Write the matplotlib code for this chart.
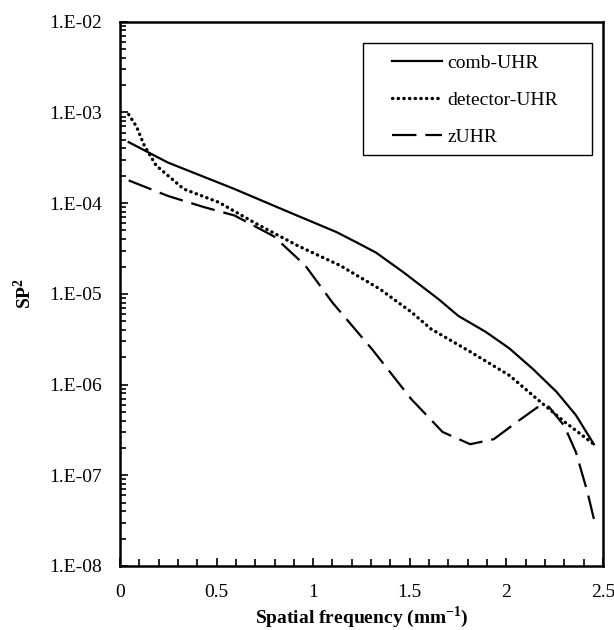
import numpy as np
import matplotlib
matplotlib.use("Agg")
import matplotlib.pyplot as plt
from matplotlib.patches import Rectangle
from matplotlib.ticker import FixedLocator, FuncFormatter, LogLocator, MultipleLocator, NullFormatter

plt.rcParams['font.family'] = ['Liberation Serif', 'DejaVu Serif']

comb_x = [0.045, 0.248, 0.593, 0.837, 1.12, 1.24, 1.325, 1.467, 1.65, 1.752, 1.894, 2.016, 2.138, 2.26, 2.36, 2.453]
comb_y = [4.7e-4, 2.8e-4, 1.43e-4, 8.6e-5, 4.8e-5, 3.55e-5, 2.85e-5, 1.73e-5, 8.7e-6, 5.7e-6, 3.8e-6, 2.5e-6, 1.48e-6, 8.3e-7, 4.6e-7, 2.2e-7]

det_x = [0.045, 0.085, 0.126, 0.187, 0.33, 0.512, 0.695, 0.919, 1.142, 1.345, 1.508, 1.61, 1.813, 2.016, 2.16, 2.3, 2.453]
det_y = [9.5e-4, 7e-4, 4.3e-4, 2.6e-4, 1.43e-4, 1.02e-4, 6.1e-5, 3.4e-5, 2.04e-5, 1.13e-5, 6.3e-6, 4.1e-6, 2.3e-6, 1.26e-6, 6.9e-7, 3.9e-7, 2.2e-7]

z_x = [0.045, 0.248, 0.43, 0.593, 0.797, 0.96, 1.1, 1.305, 1.508, 1.67, 1.813, 1.935, 2.057, 2.16, 2.22, 2.3, 2.36, 2.42, 2.453]
z_y = [1.78e-4, 1.2e-4, 9.1e-5, 7.3e-5, 4.3e-5, 2.04e-5, 8.0e-6, 2.45e-6, 6.9e-7, 3.0e-7, 2.2e-7, 2.5e-7, 3.9e-7, 5.6e-7, 5.7e-7, 3.5e-7, 1.8e-7, 6.5e-8, 3.3e-8]

labels = ['comb-UHR', 'detector-UHR', 'zUHR']
x_ticks = [0, 0.5, 1, 1.5, 2, 2.5]

fig = plt.figure(figsize=(6.14, 6.30), dpi=100)
ax = fig.add_axes([0.1954, 0.1016, 0.7866, 0.864])

ax.plot(comb_x, comb_y, color='black', lw=1.6, ls='-', label=labels[0])
ax.plot(det_x, det_y, color='black', lw=2.4, ls=(0, (0.1, 1.6)), dash_capstyle='round', label=labels[1])
ax.plot(z_x, z_y, color='black', lw=1.6, ls=(0, (11, 4)), label=labels[2])

ax.set_yscale('log')
ax.set_xlim(0, 2.5)
ax.set_ylim(1e-8, 1e-2)

ax.xaxis.set_major_locator(FixedLocator(x_ticks))
ax.xaxis.set_minor_locator(MultipleLocator(0.1))
ax.xaxis.set_major_formatter(FuncFormatter(lambda v, p: f"{v:g}"))
ax.yaxis.set_major_locator(LogLocator(base=10, numticks=20))
ax.yaxis.set_minor_locator(LogLocator(base=10, subs=np.arange(2, 10), numticks=20))
ax.yaxis.set_minor_formatter(NullFormatter())
ax.yaxis.set_major_formatter(FuncFormatter(lambda v, p: "1.E%+03d" % int(round(np.log10(v))) if 1e-8 <= v <= 1e-2 else ""))

ax.tick_params(which='both', direction='in', labelsize=14, width=1.2)
ax.tick_params(which='major', length=6, pad=13)
ax.tick_params(which='minor', length=4)
ax.tick_params(axis='x', which='minor', length=5)
ax.tick_params(right=False, top=False)

for s in ax.spines.values():
    s.set_linewidth(1.8)

ax.set_xlabel('Spatial frequency (mm$^{\\mathregular{-1}}$)', fontsize=14, fontweight='bold', labelpad=2)
ax.set_ylabel('SP$^{\\mathregular{2}}$', fontsize=14, fontweight='bold', labelpad=10)

ax.add_patch(Rectangle((0.503, 0.755), 0.474, 0.206, transform=ax.transAxes,
                       fill=True, facecolor='white', edgecolor='black', lw=1.0, zorder=4))
leg = ax.legend(loc='upper left', bbox_to_anchor=(0.563, 0.940), fontsize=14, frameon=False,
                handlelength=2.6, handletextpad=0.25, labelspacing=1.0,
                borderpad=0, borderaxespad=0)
leg.set_zorder(5)

fig.savefig('out.png', dpi=100)
